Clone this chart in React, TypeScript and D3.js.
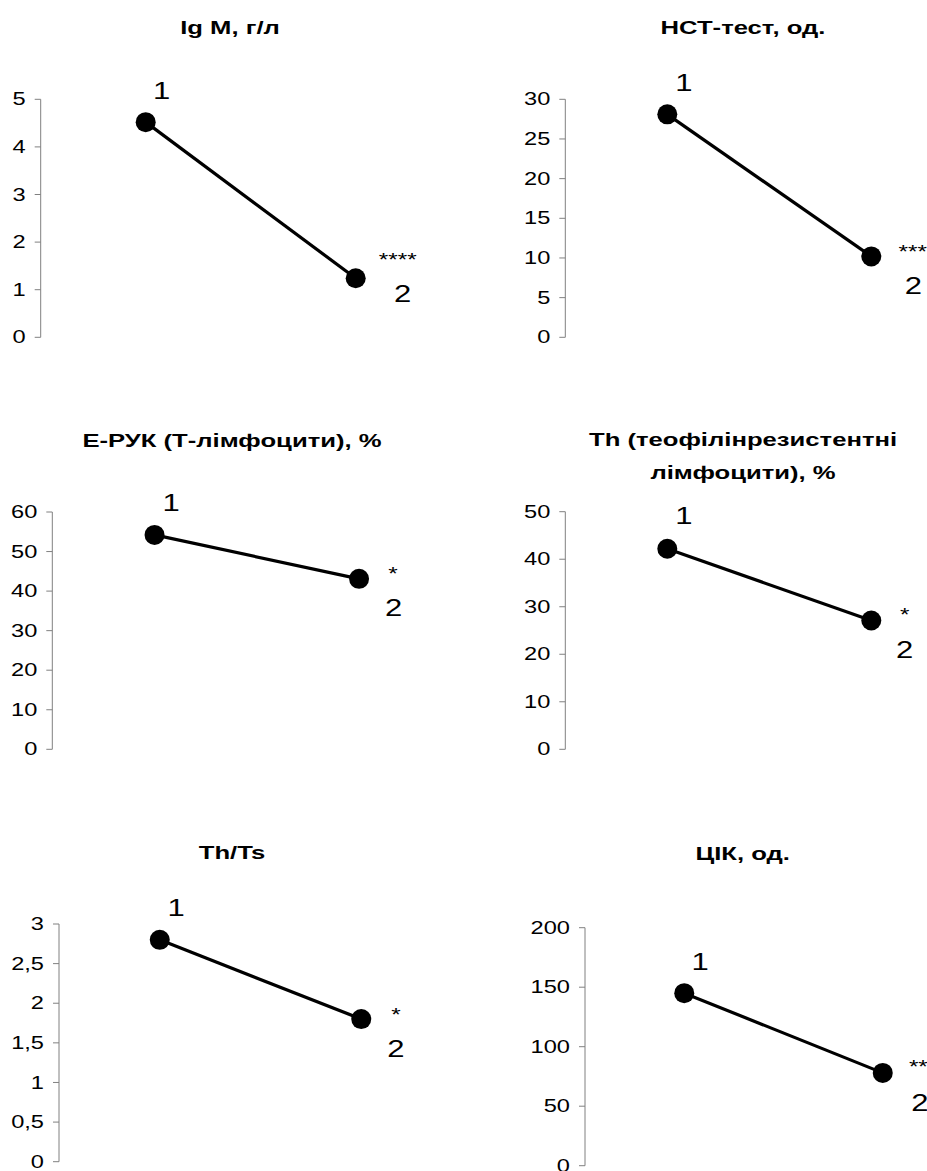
import React from 'react'
import { scaleLinear, scalePoint, range } from 'd3'

// chart data
const categories = ['1', '2']
const titles = [
    ['Ig M, г/л'],
    ['НСТ-тест, од.'],
    ['Е-РУК (Т-лімфоцити), %'],
    ['Th (теофілінрезистентні', 'лімфоцити), %'],
    ['Th/Ts'],
    ['ЦІК, од.'],
]
const before = [4.52, 28.1, 54.2, 42.2, 2.8, 145]
const after = [1.24, 10.2, 43.1, 27.1, 1.8, 78]
const significance = ['****', '***', '*', '*', '*', '**']
const yMax = [5, 30, 60, 50, 3, 200]
const tickStep = [1, 5, 10, 10, 0.5, 50]

// layout of each small chart (pixels)
const layout = [
    { axisX: 40.7, plotW: 420, top: 99.3, bottom: 337.3, titleX: 230, titleY: [34], l1: [16, -23], l2: [47, 24], st: [42, -23.5] },
    { axisX: 565.3, plotW: 408, top: 99.3, bottom: 337.3, titleX: 743, titleY: [34], l1: [16.7, -23.6], l2: [42, 37.6], st: [41.5, -9.4] },
    { axisX: 52.3, plotW: 409, top: 512, bottom: 749.3, titleX: 232, titleY: [446.7], l1: [16.7, -24.3], l2: [34.6, 37], st: [34, -9.7] },
    { axisX: 565.3, plotW: 408, top: 511.7, bottom: 749.3, titleX: 743, titleY: [445.7, 479], l1: [16.7, -24.7], l2: [33.3, 37.6], st: [33.3, -10.7] },
    { axisX: 59, plotW: 403, top: 924, bottom: 1161.7, titleX: 232, titleY: [859], l1: [16.3, -24.3], l2: [34.7, 38.4], st: [34.7, -9.3] },
    { axisX: 585, plotW: 397, top: 927.7, bottom: 1165.7, titleX: 742.7, titleY: [860], l1: [16, -23.3], l2: [37.2, 38.4], st: [35.6, -10.3] },
]

const FONT = 'Arial, "Liberation Sans", sans-serif'
const SX = 1.35 // the source text is stretched horizontally

const fmt = (v: number) => String(+v.toFixed(2)).replace('.', ',')

const StretchText = ({ x, y, anchor = 'middle', size, bold = false, dy = '0', children }: any) => (
    <text
        transform={`translate(${x},${y}) scale(${SX},1)`}
        textAnchor={anchor}
        fontSize={size}
        fontWeight={bold ? 'bold' : 'normal'}
        fontFamily={FONT}
        dy={dy}
        fill="#000"
    >
        {children}
    </text>
)

const Panel = ({ i }: { i: number }) => {
    const L = layout[i]
    const x = scalePoint<string>().domain(categories).range([L.axisX, L.axisX + L.plotW]).padding(0.5)
    const y = scaleLinear().domain([0, yMax[i]]).range([L.bottom, L.top])
    const ticks = range(0, yMax[i] + tickStep[i] / 2, tickStep[i])
    const vals = [before[i], after[i]]
    const pts = categories.map((c, k) => [x(c) as number, y(vals[k])])

    return (
        <g>
            {titles[i].map((t, k) => (
                <StretchText key={k} x={L.titleX} y={L.titleY[k]} size={19} bold>{t}</StretchText>
            ))}
            <line x1={L.axisX} x2={L.axisX} y1={y(0)} y2={y(yMax[i])} stroke="#808080" strokeWidth={1} />
            {ticks.map(t => (
                <g key={t}>
                    <line x1={L.axisX - 6} x2={L.axisX} y1={y(t)} y2={y(t)} stroke="#808080" strokeWidth={1} />
                    <StretchText x={L.axisX - 15} y={y(t)} anchor="end" size={17.5} dy="0.35em">{fmt(t)}</StretchText>
                </g>
            ))}
            <line x1={pts[0][0]} y1={pts[0][1]} x2={pts[1][0]} y2={pts[1][1]} stroke="#000" strokeWidth={3.2} />
            {pts.map((p, k) => (
                <circle key={k} cx={p[0]} cy={p[1]} r={10} fill="#000" />
            ))}
            <StretchText x={pts[0][0] + L.l1[0]} y={pts[0][1] + L.l1[1]} size={23}>{categories[0]}</StretchText>
            <StretchText x={pts[1][0] + L.l2[0]} y={pts[1][1] + L.l2[1]} size={23}>{categories[1]}</StretchText>
            <StretchText x={pts[1][0] + L.st[0]} y={pts[1][1] + L.st[1]} size={18} dy="0.6em">{significance[i]}</StretchText>
        </g>
    )
}

const App = () => {
    return (
        <svg width={927} height={1171} style={{ position: 'absolute', left: 0, top: 0, background: '#fff' }}>
            <rect width={927} height={1171} fill="#fff" />
            {layout.map((_, i) => <Panel key={i} i={i} />)}
        </svg>
    )
}

export default App
